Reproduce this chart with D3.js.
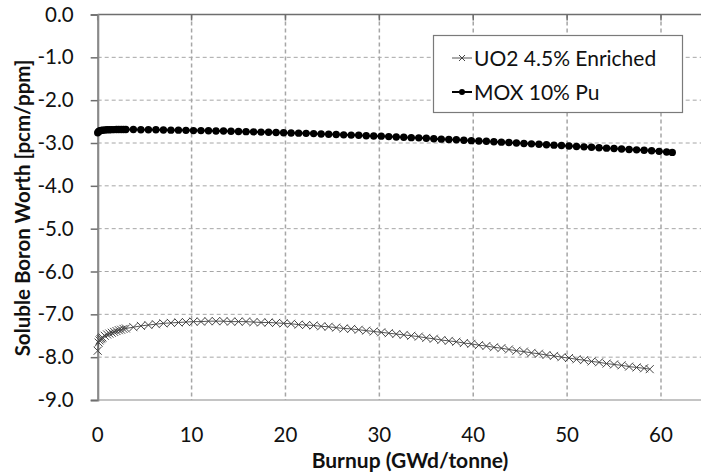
<!DOCTYPE html>
<html><head><meta charset="utf-8">
<script src="https://cdn.jsdelivr.net/npm/d3@7"></script>
<style>
html,body{margin:0;padding:0;background:#fff;}
svg{display:block;font-family:"Lato","Open Sans",sans-serif;}
</style></head>
<body><svg id="c" width="701" height="472"></svg>
<script>
const xTicks = [0, 10, 20, 30, 40, 50, 60];
const yTicks = [0, -1, -2, -3, -4, -5, -6, -7, -8, -9];
const seriesNames = ["UO2 4.5% Enriched", "MOX 10% Pu"];

const uo2Burnup = [0,0.1,0.2,0.3,0.4,0.5,0.75,1,1.25,1.5,1.75,2,2.25,2.5,2.75,3,3.8,4.6,5.4,6.2,7.0,7.8,8.6,9.4,10.2,11.0,11.8,12.6,13.4,14.2,15.0,15.8,16.6,17.4,18.2,19.0,19.8,20.6,21.4,22.2,23.0,23.8,24.6,25.4,26.2,27.0,27.8,28.6,29.4,30.2,31.0,31.8,32.6,33.4,34.2,35.0,35.8,36.6,37.4,38.2,39.0,39.8,40.6,41.4,42.2,43.0,43.8,44.6,45.4,46.2,47.0,47.8,48.6,49.4,50.2,51.0,51.8,52.6,53.4,54.2,55.0,55.8,56.6,57.4,58.2,58.8];
const uo2Worth = [-7.85,-7.66,-7.61,-7.58,-7.56,-7.54,-7.50,-7.47,-7.45,-7.43,-7.41,-7.39,-7.37,-7.36,-7.34,-7.33,-7.30,-7.27,-7.25,-7.23,-7.21,-7.20,-7.19,-7.18,-7.17,-7.17,-7.16,-7.16,-7.16,-7.17,-7.17,-7.17,-7.18,-7.19,-7.19,-7.20,-7.21,-7.22,-7.24,-7.25,-7.26,-7.28,-7.29,-7.31,-7.33,-7.34,-7.36,-7.38,-7.40,-7.42,-7.44,-7.46,-7.48,-7.50,-7.52,-7.55,-7.57,-7.60,-7.62,-7.64,-7.67,-7.69,-7.72,-7.74,-7.77,-7.79,-7.82,-7.85,-7.87,-7.90,-7.92,-7.95,-7.97,-8.00,-8.02,-8.05,-8.07,-8.10,-8.12,-8.15,-8.17,-8.19,-8.22,-8.24,-8.26,-8.28];

const moxBurnup = [0,0.1,0.2,0.3,0.4,0.5,0.75,1,1.25,1.5,1.75,2,2.25,2.5,2.75,3,3.8,4.6,5.4,6.2,7.0,7.8,8.6,9.4,10.2,11.0,11.8,12.6,13.4,14.2,15.0,15.8,16.6,17.4,18.2,19.0,19.8,20.6,21.4,22.2,23.0,23.8,24.6,25.4,26.2,27.0,27.8,28.6,29.4,30.2,31.0,31.8,32.6,33.4,34.2,35.0,35.8,36.6,37.4,38.2,39.0,39.8,40.6,41.4,42.2,43.0,43.8,44.6,45.4,46.2,47.0,47.8,48.6,49.4,50.2,51.0,51.8,52.6,53.4,54.2,55.0,55.8,56.6,57.4,58.2,59.0,59.8,60.6,61.2];
const moxWorth = [-2.76,-2.73,-2.72,-2.71,-2.705,-2.70,-2.695,-2.69,-2.69,-2.688,-2.687,-2.686,-2.685,-2.685,-2.685,-2.685,-2.685,-2.69,-2.69,-2.69,-2.695,-2.70,-2.70,-2.705,-2.71,-2.71,-2.715,-2.72,-2.72,-2.725,-2.73,-2.735,-2.74,-2.745,-2.75,-2.755,-2.76,-2.765,-2.77,-2.775,-2.78,-2.79,-2.795,-2.80,-2.81,-2.815,-2.82,-2.83,-2.835,-2.84,-2.85,-2.86,-2.865,-2.875,-2.88,-2.89,-2.90,-2.91,-2.92,-2.925,-2.935,-2.945,-2.955,-2.96,-2.97,-2.98,-2.99,-3.00,-3.01,-3.02,-3.03,-3.04,-3.05,-3.06,-3.07,-3.08,-3.09,-3.10,-3.11,-3.12,-3.13,-3.14,-3.15,-3.16,-3.17,-3.18,-3.195,-3.21,-3.22];

const svg = d3.select("#c");
const x = d3.scaleLinear().domain([0, 60]).range([97.7, 661]);
const y = d3.scaleLinear().domain([-9, 0]).range([400, 14.5]);
const plotRight = 701;
const axisCol = "#8a8a8a", gridCol = "#a6a6a6";

// horizontal gridlines
svg.append("g").selectAll("line").data(yTicks.filter(v => v !== 0 && v !== -9)).join("line")
  .attr("x1", x(0)).attr("x2", plotRight).attr("y1", d => y(d)).attr("y2", d => y(d))
  .attr("stroke", gridCol).attr("stroke-width", 1).attr("stroke-dasharray", "4,3");
// vertical gridlines
svg.append("g").selectAll("line").data(xTicks.filter(v => v !== 0)).join("line")
  .attr("x1", d => x(d)).attr("x2", d => x(d)).attr("y1", y(0)).attr("y2", y(-9))
  .attr("stroke", gridCol).attr("stroke-width", 1.5).attr("stroke-dasharray", "4,3");
// bottom border
svg.append("line").attr("x1", x(0)).attr("x2", plotRight).attr("y1", y(-9)).attr("y2", y(-9))
  .attr("stroke", axisCol).attr("stroke-width", 1.2);

// x axis at y=0 (top) with inward ticks, labels at bottom
svg.append("line").attr("x1", x(0)).attr("x2", plotRight).attr("y1", y(0)).attr("y2", y(0))
  .attr("stroke", "#6e6e6e").attr("stroke-width", 1.5);
svg.append("g").selectAll("line").data(xTicks).join("line")
  .attr("x1", d => x(d)).attr("x2", d => x(d)).attr("y1", y(0)).attr("y2", y(0) + 6)
  .attr("stroke", "#6e6e6e").attr("stroke-width", 1.5);

// y axis
const yAxis = d3.axisLeft(y).tickValues(yTicks).tickSize(7).tickFormat(d3.format(".1f"));
const gy = svg.append("g").attr("transform", `translate(${x(0)},0)`).call(yAxis);
gy.select(".domain").attr("stroke", axisCol).attr("stroke-width", 2.2);
gy.selectAll(".tick line").attr("stroke", "#6e6e6e").attr("stroke-width", 1.5);
gy.selectAll(".tick text").attr("x", -24).attr("font-size", 20.5).attr("fill", "#111")
  .attr("font-family", "Lato, 'Open Sans', sans-serif")
  .text(d => d === 0 ? "0.0" : d3.format(".1f")(d).replace("−", "-"));

// x tick labels at bottom
svg.append("g").selectAll("text").data(xTicks).join("text")
  .attr("x", d => x(d)).attr("y", 442).attr("text-anchor", "middle")
  .attr("font-size", 20.5).attr("fill", "#111").text(d => d);

// axis titles
svg.append("text").attr("x", 410).attr("y", 468).attr("text-anchor", "middle")
  .attr("font-size", 21).attr("font-weight", "bold").attr("fill", "#111").text("Burnup (GWd/tonne)");
svg.append("text").attr("transform", "translate(30,208) rotate(-90)").attr("text-anchor", "middle")
  .attr("font-size", 20.5).attr("font-weight", "bold").attr("fill", "#111").text("Soluble Boron Worth [pcm/ppm]");

const line = d3.line().x(d => x(d[0])).y(d => y(d[1]));
const uo2 = uo2Burnup.map((b, i) => [b, uo2Worth[i]]);
const mox = moxBurnup.map((b, i) => [b, moxWorth[i]]);

// UO2 series
svg.append("path").datum(uo2).attr("d", line).attr("fill", "none").attr("stroke", "#555").attr("stroke-width", 1);
const xm = 4;
svg.append("g").selectAll("path").data(uo2).join("path")
  .attr("d", d => `M${x(d[0]) - xm},${y(d[1]) - xm}L${x(d[0]) + xm},${y(d[1]) + xm}M${x(d[0]) - xm},${y(d[1]) + xm}L${x(d[0]) + xm},${y(d[1]) - xm}`)
  .attr("stroke", "#444").attr("stroke-width", 1).attr("fill", "none");

// MOX series
svg.append("path").datum(mox).attr("d", line).attr("fill", "none").attr("stroke", "#000").attr("stroke-width", 2);
svg.append("g").selectAll("circle").data(mox).join("circle")
  .attr("cx", d => x(d[0])).attr("cy", d => y(d[1])).attr("r", 3.7).attr("fill", "#000");

// legend
const lg = svg.append("g");
lg.append("rect").attr("x", 433.5).attr("y", 35.5).attr("width", 249).attr("height", 77)
  .attr("fill", "#fff").attr("stroke", "#7a7a7a").attr("stroke-width", 1.2);
const lx1 = 452, lx2 = 472, lmx = 462;
const ly1 = 58, ly2 = 92;
lg.append("line").attr("x1", lx1).attr("x2", lx2).attr("y1", ly1).attr("y2", ly1).attr("stroke", "#555").attr("stroke-width", 1);
lg.append("path").attr("d", `M${lmx - 3},${ly1 - 3}L${lmx + 3},${ly1 + 3}M${lmx - 3},${ly1 + 3}L${lmx + 3},${ly1 - 3}`)
  .attr("stroke", "#444").attr("stroke-width", 1);
lg.append("line").attr("x1", lx1).attr("x2", lx2).attr("y1", ly2).attr("y2", ly2).attr("stroke", "#000").attr("stroke-width", 2);
lg.append("circle").attr("cx", lmx).attr("cy", ly2).attr("r", 3).attr("fill", "#000");
lg.selectAll("text").data(seriesNames).join("text")
  .attr("x", 474).attr("y", (d, i) => (i === 0 ? ly1 : ly2) + 7.5)
  .attr("font-size", 21).attr("fill", "#111").text(d => d);
</script></body></html>
